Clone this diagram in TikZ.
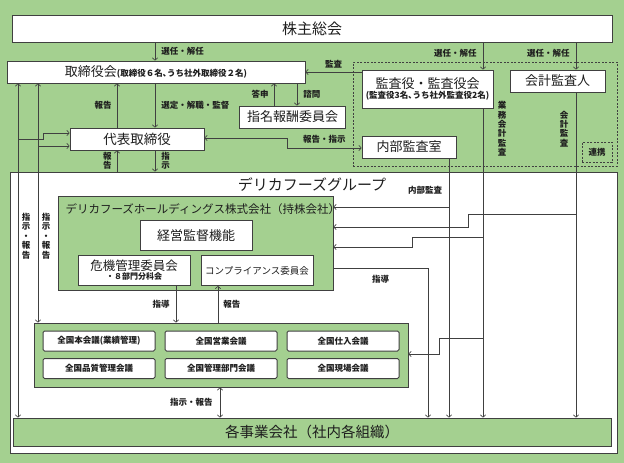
\documentclass[tikz,border=0pt]{standalone}
\usepackage{fontspec}
\setmainfont{Noto Sans CJK JP}
\usepackage{tikz}
\usetikzlibrary{arrows.meta,calc,positioning}
\usepackage{xcolor}
\definecolor{bggreen}{RGB}{164,208,144}
\definecolor{edge}{RGB}{64,64,64}
\definecolor{ink}{RGB}{30,30,30}

\begin{document}
\begin{tikzpicture}[x=1pt,y=-1pt,
    box/.style={draw=edge,line width=0.7pt,fill=white,inner sep=0pt,minimum height=22pt,text=ink},
    gbox/.style={box,fill=bggreen},
    mbox/.style={box,rounded corners=1.5pt,line width=1pt,minimum width=112pt,minimum height=20pt,font=\bfseries\fontsize{8.5}{9}\selectfont},
    lbl/.style={font=\bfseries\fontsize{8.5}{9}\selectfont,text=ink,inner sep=1pt},
    vlbl/.style={lbl,align=center,font=\bfseries\fontsize{8.5}{9.4}\selectfont},
    conn/.style={draw=edge,line width=0.6pt},
    >={Straight Barb[length=2.5pt,width=5.5pt]}]
    \useasboundingbox (0,0) rectangle (624,463);
    \fill[bggreen] (0,0) rectangle (624,463);

    % line positions
    \coordinate (vL) at (18,0);
    \coordinate (vM) at (38,0);
    \coordinate (vR) at (117,0);
    \coordinate (vC) at (155,0);
    \coordinate (vT) at (274,0);
    \coordinate (vS) at (297,0);
    \coordinate (vG) at (428,0);
    \coordinate (vN) at (449,0);
    \coordinate (vK) at (483,0);
    \coordinate (vA) at (576,0);
    \coordinate (vD) at (176,0);
    \coordinate (vU) at (218,0);
    \coordinate (vB) at (220,0);

    % frames
    \node[box,minimum width=607pt,minimum height=281pt] (group) at (313.5,312.5) {};
    \node[font=\fontsize{15}{15}\selectfont,text=ink] (grouptitle) at (312,185) {デリカフーズグループ};
    \node[draw=edge,dashed,dash pattern=on 2pt off 1.5pt,line width=0.7pt,inner sep=0pt,
          minimum width=264pt,minimum height=104pt] (audit) at (485,114) {};

    % top level
    \node[box,minimum width=600pt,minimum height=27pt,font=\fontsize{15}{15}\selectfont] (kabunushi) at (312,28.5) {株主総会};
    \node[box,minimum width=298pt] (torishimari) at (156,72)
        {\fontsize{13}{13}\selectfont 取締役会\fontsize{8.5}{9}\selectfont\bfseries(取締役６名､うち社外取締役２名)};
    \node[box,minimum width=131pt,minimum height=38pt,align=center] (kansa) at (427.5,89)
        {\fontsize{13}{15}\selectfont 監査役・監査役会\\[-2pt]\fontsize{8.5}{9}\selectfont\bfseries(監査役3名､うち社外監査役2名)};
    \node[box,minimum width=95pt,font=\fontsize{13}{13}\selectfont] (kaikei) at (557.5,81) {会計監査人};
    \node[box,minimum width=106pt,font=\fontsize{13}{13}\selectfont] (shimei) at (292.5,117) {指名報酬委員会};
    \node[box,minimum width=134pt,font=\fontsize{13.5}{13.5}\selectfont] (daihyo) at (137,139) {代表取締役};
    \node[box,minimum width=94pt,font=\fontsize{13}{13}\selectfont] (naibu) at (409,147) {内部監査室};
    \node[draw=edge,dashed,dash pattern=on 2pt off 1.5pt,line width=0.7pt,inner sep=0pt,
          minimum width=30pt,minimum height=20pt,lbl] (renkei) at (597,152) {連携};

    % holding company
    \node[gbox,minimum width=275pt,minimum height=94pt] (hd) at (195.5,243) {};
    \node[anchor=west,font=\fontsize{11.5}{12}\selectfont,text=ink] (hdtitle) at (62,209) {デリカフーズホールディングス株式会社（持株会社）};
    \node[box,minimum width=112pt,minimum height=30pt,font=\fontsize{13}{13}\selectfont] (keiei) at (196,235.5) {経営監督機能};
    \node[box,minimum width=112pt,minimum height=30pt,align=center] (kiki) at (134,270.5)
        {\fontsize{12.5}{13}\selectfont 危機管理委員会\\[-3pt]\fontsize{8}{9}\selectfont\bfseries ・８部門分科会};
    \node[box,minimum width=112pt,minimum height=30pt,font=\fontsize{9.5}{10}\selectfont] (comp) at (257,270.5) {コンプライアンス委員会};

    % national meetings
    \node[gbox,minimum width=374pt,minimum height=64pt] (zenkoku) at (221,355) {};
    \foreach \name/\px/\py/\txt in {zA/99/341/全国本会議(業績管理), zB/221/341/全国営業会議, zC/343/341/全国仕入会議,
                                    zD/99/368.5/全国品質管理会議, zE/221/368.5/全国管理部門会議, zF/343/368.5/全国現場会議}
        \node[mbox] (\name) at (\px,\py) {\txt};

    % operating companies
    \node[gbox,minimum width=598pt,minimum height=28pt,font=\fontsize{14.5}{15}\selectfont] (kakuji) at (312,432) {各事業会社（社内各組織）};

    % appointment
    \draw[conn,->] (kabunushi.south -| vC) -- (torishimari.north -| vC) node[lbl,midway,right=5pt] {選任・解任};
    \draw[conn,->] (kabunushi.south -| vK) -- (kansa.north -| vK) node[lbl,pos=0.4,left=5pt] {選任・解任};
    \draw[conn,->] (kabunushi.south -| vA) -- (kaikei.north -| vA) node[lbl,pos=0.4,left=5pt] {選任・解任};
    \draw[conn,->] (kansa.west |- 0,72) -- (torishimari.east |- 0,72) node[lbl,midway,above=3pt] {監査};

    % board and representative
    \draw[conn,->] (torishimari.south -| vC) -- (daihyo.north -| vC) node[lbl,midway,right=5pt] {選定・解職・監督};
    \draw[conn,->] (daihyo.north -| vR) -- (torishimari.south -| vR) node[lbl,midway,left=4pt] {報告};
    \draw[conn,->] (shimei.north -| vT) -- (torishimari.south -| vT) node[lbl,midway,left=4pt] {答申};
    \draw[conn,->] (torishimari.south -| vS) -- (shimei.north -| vS) node[lbl,midway,right=5pt] {諮問};
    \draw[conn,<->] (daihyo.east |- 0,138) -- (287,138) -- (287,148) -- (naibu.west |- 0,148)
        node[lbl,midway,above=3pt] {報告・指示};
    \draw[conn,->] (daihyo.south -| vC) -- (group.north -| vC) node[vlbl,midway,right=5pt] {指\\示};
    \draw[conn,->] (group.north -| vR) -- (daihyo.south -| vR) node[vlbl,midway,left=4pt] {報\\告};

    % left side
    \draw[conn,<->] (torishimari.south -| vL) -- (kakuji.north -| vL);
    \draw[conn,<->] (torishimari.south -| vM) -- (zenkoku.north -| vM);
    \draw[conn,->] (vL |- 0,139) -- (43,139) -- (43,133) -- (daihyo.west |- 0,133);
    \draw[conn,->] (vM |- 0,146) -- (daihyo.west |- 0,146);
    \node[vlbl] (lblL) at (26,236) {指\\示\\・\\報\\告};
    \node[vlbl] (lblM) at (46,236) {指\\示\\・\\報\\告};

    % audit lines
    \draw[conn,->] (naibu.south -| vN) -- (kakuji.north -| vN);
    \draw[conn,->] (kansa.south -| vK) -- (kakuji.north -| vK);
    \draw[conn,->] (kaikei.south -| vA) -- (kakuji.north -| vA);
    \node[vlbl] (lblgyomu) at (502,129) {業\\務\\会\\計\\監\\査};
    \node[vlbl] (lblkaikei) at (564,129) {会\\計\\監\\査};
    \draw[conn,->] (vN |- 0,207) -- (hd.east |- 0,207);
    \draw[conn,->] (vA |- 0,214) -- (468,214) -- (468,227) -- (hd.east |- 0,227);
    \draw[conn,->] (vK |- 0,237) -- (412,237) -- (412,247) -- (hd.east |- 0,247);
    \node[lbl] (lblnaibu) at (425,190) {内部監査};
    \draw[conn,->] (hd.east |- 0,268) -| (kakuji.north -| vG) node[lbl,pos=0.25,below=6pt] {指導};
    \draw[conn,->] (vK |- 0,338) -- (439,338) -- (439,354) -- (zenkoku.east |- 0,354);

    % committees and meetings
    \draw[conn,->] (kiki.south -| vD) -- (zenkoku.north -| vD) node[lbl,midway,left=5pt] {指導};
    \draw[conn,->] (zenkoku.north -| vU) -- (comp.south -| vU) node[lbl,midway,right=4pt] {報告};
    \draw[conn,<->] (zenkoku.south -| vB) -- (kakuji.north -| vB) node[lbl,midway,left=6pt] {指示・報告};
\end{tikzpicture}
\end{document}
